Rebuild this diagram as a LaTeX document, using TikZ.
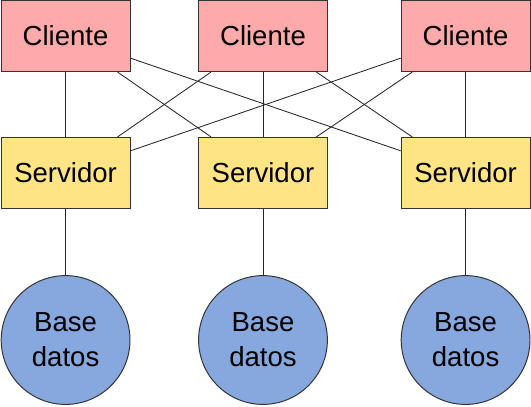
\documentclass[tikz,border=0pt]{standalone}
\usepackage{fontspec}
\setmainfont{Liberation Sans}
\definecolor{rosa}{HTML}{FFAAAA}
\definecolor{amarillo}{HTML}{FFE485}
\definecolor{azul}{HTML}{86A8DE}
\begin{document}
\begin{tikzpicture}
\tikzstyle{con}= [line width=0.6pt,black!85]
\tikzstyle{caja}= [rectangle,draw=black!80,line width=0.7pt,minimum width=3.22cm,minimum height=1.78cm,font=\fontsize{19.6}{25}\selectfont]
\tikzstyle{cli}= [caja,fill=rosa]
\tikzstyle{srv}= [caja,fill=amarillo]
\tikzstyle{bd}= [circle,draw=black!80,line width=0.7pt,fill=azul,minimum size=3.22cm,inner sep=0pt,align=center,font=\fontsize{19.6}{25}\selectfont]
\useasboundingbox (0,0) rectangle (13.275,-10.15);
\path
	( 1.64,-0.9)   node[cli] (c1) {Cliente}
	( 6.575,-0.9)  node[cli] (c2) {Cliente}
	(11.64,-0.9)   node[cli] (c3) {Cliente}
	( 1.64,-4.325)  node[srv] (s1) {Servidor}
	( 6.575,-4.325) node[srv] (s2) {Servidor}
	(11.64,-4.325)  node[srv] (s3) {Servidor}
	( 1.64,-8.5)   node[bd] (b1) {Base\\datos}
	( 6.575,-8.5)  node[bd] (b2) {Base\\datos}
	(11.64,-8.5)   node[bd] (b3) {Base\\datos}
;
\draw[con] (c1) -- (s1);
\draw[con] (c1) -- (s2);
\draw[con] (c1) -- (s3);
\draw[con] (c2) -- (s1);
\draw[con] (c2) -- (s2);
\draw[con] (c2) -- (s3);
\draw[con] (c3) -- (s1);
\draw[con] (c3) -- (s2);
\draw[con] (c3) -- (s3);
\draw[con] (s1) -- (b1);
\draw[con] (s2) -- (b2);
\draw[con] (s3) -- (b3);
\end{tikzpicture}
\end{document}
